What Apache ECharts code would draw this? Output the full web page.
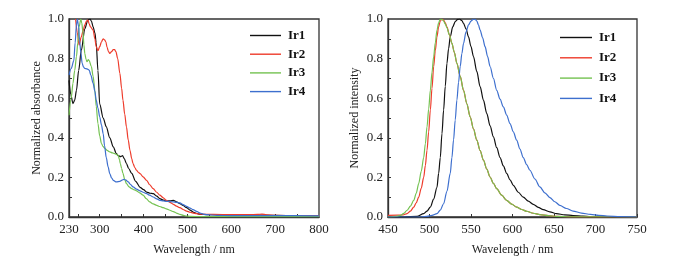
<!DOCTYPE html>
<html>
<head>
<meta charset="utf-8">
<script src="https://cdn.jsdelivr.net/npm/echarts@6/dist/echarts.min.js"></script>
<style>
  html, body { margin: 0; padding: 0; background: #fff; }
  #chart { width: 684px; height: 269px; }
</style>
</head>
<body>
<div id="chart"></div>
<script>
// absorption spectra, [wavelength nm, normalized absorbance]
var absIr1 = [[230, 0.69], [234, 0.62], [239, 0.573], [243, 0.59], [247, 0.64], [252, 0.74], [258, 0.84], [266, 0.95], [273, 0.995], [278, 1.0], [281, 0.99], [285, 0.96], [289, 0.93], [292, 0.88], [296, 0.74], [300, 0.57], [308, 0.5], [315, 0.455], [323, 0.4], [331, 0.354], [338, 0.32], [342, 0.31], [348, 0.305], [352, 0.31], [356, 0.295], [361, 0.27], [366, 0.245], [373, 0.22], [382, 0.18], [392, 0.15], [400, 0.138], [407, 0.126], [415, 0.12], [422, 0.118], [430, 0.105], [437, 0.093], [445, 0.085], [453, 0.081], [461, 0.082], [468, 0.084], [475, 0.077], [483, 0.067], [490, 0.058], [498, 0.047], [506, 0.035], [513, 0.025], [521, 0.018], [529, 0.013], [544, 0.012], [600, 0.011], [650, 0.01], [700, 0.008], [750, 0.007], [800, 0.005]];
var absIr2 = [[245, 1.0], [249, 0.93], [253, 0.868], [258, 0.91], [262, 0.94], [266, 0.97], [270, 0.99], [273, 0.995], [276, 0.975], [279, 0.96], [285, 0.944], [289, 0.9], [292, 0.86], [296, 0.84], [300, 0.86], [304, 0.885], [308, 0.9], [311, 0.895], [314, 0.885], [317, 0.855], [320, 0.835], [323, 0.826], [327, 0.835], [331, 0.846], [334, 0.845], [337, 0.835], [341, 0.8], [346, 0.725], [350, 0.65], [353, 0.59], [357, 0.52], [361, 0.455], [365, 0.39], [369, 0.337], [373, 0.295], [376, 0.27], [380, 0.25], [384, 0.236], [388, 0.226], [392, 0.219], [399, 0.203], [407, 0.185], [414, 0.163], [422, 0.143], [430, 0.125], [437, 0.11], [445, 0.097], [452, 0.084], [460, 0.074], [468, 0.064], [475, 0.055], [483, 0.047], [490, 0.038], [498, 0.03], [506, 0.024], [513, 0.02], [521, 0.017], [529, 0.015], [560, 0.013], [600, 0.012], [640, 0.012], [660, 0.013], [670, 0.015], [680, 0.011], [700, 0.008], [750, 0.007], [800, 0.006]];
var absIr3 = [[230, 0.514], [235, 0.6], [239, 0.675], [243, 0.74], [247, 0.81], [250, 0.88], [253, 0.96], [257, 1.0], [259, 0.98], [262, 0.93], [264, 0.87], [266, 0.826], [269, 0.795], [271, 0.784], [274, 0.795], [276, 0.79], [281, 0.76], [285, 0.71], [289, 0.64], [292, 0.56], [296, 0.472], [300, 0.41], [304, 0.371], [308, 0.355], [312, 0.346], [317, 0.336], [323, 0.329], [329, 0.324], [334, 0.32], [338, 0.317], [342, 0.312], [345, 0.29], [347, 0.27], [350, 0.245], [353, 0.22], [357, 0.19], [361, 0.169], [367, 0.152], [373, 0.143], [379, 0.137], [384, 0.132], [391, 0.122], [399, 0.11], [406, 0.093], [414, 0.076], [422, 0.066], [430, 0.059], [437, 0.053], [445, 0.047], [452, 0.041], [460, 0.034], [468, 0.027], [475, 0.02], [483, 0.013], [491, 0.008], [498, 0.005], [506, 0.003], [530, 0.002], [600, 0.002], [700, 0.002], [800, 0.002]];
var absIr4 = [[230, 0.717], [235, 0.75], [241, 0.79], [244, 0.88], [247, 0.97], [249, 1.0], [252, 0.96], [254, 0.894], [257, 0.83], [260, 0.776], [263, 0.758], [266, 0.75], [271, 0.748], [276, 0.742], [280, 0.715], [285, 0.675], [289, 0.635], [292, 0.59], [296, 0.55], [300, 0.506], [304, 0.465], [308, 0.42], [311, 0.36], [315, 0.3], [319, 0.255], [323, 0.219], [327, 0.198], [331, 0.185], [338, 0.177], [346, 0.18], [351, 0.186], [355, 0.19], [360, 0.186], [365, 0.177], [370, 0.165], [376, 0.152], [384, 0.141], [392, 0.132], [399, 0.125], [407, 0.118], [414, 0.11], [422, 0.101], [430, 0.092], [437, 0.084], [445, 0.081], [453, 0.079], [460, 0.078], [468, 0.076], [475, 0.074], [483, 0.071], [490, 0.063], [498, 0.054], [506, 0.045], [513, 0.037], [521, 0.028], [529, 0.02], [536, 0.015], [544, 0.012], [567, 0.008], [600, 0.007], [700, 0.007], [800, 0.006]];

// emission spectra, [wavelength nm, normalized intensity]
var emIr1 = [[450, 0], [470, 0], [485, 0.003], [493, 0.017], [497, 0.03], [501, 0.05], [505, 0.09], [509, 0.15], [511, 0.22], [513, 0.3], [515, 0.42], [517, 0.54], [519, 0.66], [521, 0.776], [523, 0.85], [525, 0.91], [528, 0.96], [531, 0.987], [534, 0.998], [536, 1.0], [539, 0.992], [541, 0.978], [544, 0.95], [547, 0.91], [550, 0.86], [553, 0.81], [557, 0.735], [561, 0.658], [565, 0.59], [569, 0.523], [573, 0.46], [577, 0.405], [581, 0.35], [585, 0.3], [589, 0.258], [593, 0.22], [597, 0.188], [601, 0.16], [607, 0.125], [613, 0.1], [619, 0.08], [625, 0.064], [631, 0.049], [637, 0.037], [645, 0.026], [653, 0.017], [663, 0.011], [673, 0.007], [685, 0.004], [694, 0.002], [720, 0.001], [750, 0]];
var emIr2 = [[450, 0.008], [462, 0.009], [468, 0.011], [473, 0.017], [477, 0.03], [481, 0.05], [484, 0.072], [487, 0.1], [490, 0.145], [493, 0.2], [495, 0.26], [497, 0.337], [499, 0.43], [501, 0.54], [503, 0.65], [505, 0.76], [507, 0.84], [509, 0.91], [511, 0.96], [513, 0.99], [515, 1.0], [517, 0.995], [519, 0.98], [521, 0.96], [524, 0.92], [527, 0.877], [530, 0.83], [533, 0.776], [537, 0.71], [541, 0.64], [545, 0.572], [549, 0.506], [553, 0.445], [557, 0.388], [561, 0.335], [565, 0.287], [569, 0.242], [573, 0.202], [577, 0.17], [581, 0.143], [587, 0.11], [593, 0.084], [599, 0.065], [605, 0.05], [611, 0.038], [617, 0.029], [625, 0.019], [633, 0.012], [643, 0.007], [653, 0.003], [670, 0.001], [750, 0]];
var emIr3 = [[450, 0], [460, 0.003], [465, 0.008], [469, 0.018], [473, 0.034], [477, 0.055], [481, 0.084], [484, 0.12], [487, 0.169], [490, 0.23], [493, 0.3], [495, 0.37], [497, 0.455], [499, 0.545], [501, 0.64], [503, 0.73], [505, 0.81], [507, 0.88], [509, 0.944], [511, 0.98], [513, 1.0], [515, 0.998], [517, 0.99], [519, 0.975], [521, 0.955], [524, 0.92], [527, 0.877], [530, 0.83], [533, 0.776], [537, 0.71], [541, 0.64], [545, 0.572], [549, 0.506], [553, 0.445], [557, 0.388], [561, 0.335], [565, 0.287], [569, 0.242], [573, 0.202], [577, 0.17], [581, 0.143], [587, 0.11], [593, 0.084], [599, 0.065], [605, 0.05], [611, 0.038], [617, 0.029], [625, 0.019], [633, 0.012], [643, 0.007], [653, 0.003], [670, 0.001], [750, 0]];
var emIr4 = [[450, 0], [490, 0], [497, 0.003], [503, 0.008], [509, 0.017], [513, 0.035], [517, 0.067], [521, 0.13], [525, 0.22], [527, 0.3], [529, 0.39], [531, 0.49], [533, 0.59], [535, 0.68], [537, 0.76], [539, 0.825], [541, 0.877], [544, 0.935], [547, 0.97], [550, 0.99], [553, 1.0], [555, 0.998], [557, 0.99], [559, 0.97], [561, 0.944], [564, 0.905], [567, 0.86], [570, 0.81], [573, 0.76], [577, 0.7], [581, 0.64], [585, 0.595], [589, 0.556], [593, 0.515], [597, 0.472], [601, 0.43], [605, 0.388], [609, 0.343], [613, 0.3], [617, 0.265], [621, 0.236], [627, 0.192], [633, 0.152], [639, 0.122], [645, 0.098], [651, 0.077], [657, 0.059], [665, 0.043], [673, 0.03], [683, 0.02], [694, 0.013], [704, 0.008], [714, 0.005], [730, 0.002], [750, 0]];

var names = ['Ir1', 'Ir2', 'Ir3', 'Ir4'];
var colors = ['#111111', '#ee3b2b', '#74c251', '#3d6fce'];

var absLabels = [230, 300, 400, 500, 600, 700, 800];
var absTicks = [250, 300, 350, 400, 450, 500, 550, 600, 650, 700, 750];
var emLabels = [450, 500, 550, 600, 650, 700, 750];
var yLabels = [0, 0.2, 0.4, 0.6, 0.8, 1.0];
var yTicks = [0.1, 0.2, 0.3, 0.4, 0.5, 0.6, 0.7, 0.8, 0.9];

var font = '"Liberation Serif", "DejaVu Serif", serif';

function xAxis (grid, min, max, labels, ticks) {
  return {
    type: 'value',
    gridIndex: grid,
    min: min,
    max: max,
    interval: 50,
    name: 'Wavelength / nm',
    nameLocation: 'middle',
    nameGap: 27,
    nameTextStyle: { fontFamily: font, fontSize: 12, color: '#222' },
    axisLine: { show: true, lineStyle: { color: '#333', width: 1.3 } },
    axisTick: { show: true, inside: true, length: 3, customValues: ticks, lineStyle: { color: '#333' } },
    axisLabel: { customValues: labels, fontFamily: font, fontSize: 13, color: '#222', margin: 6 },
    splitLine: { show: false }
  }
}

function yAxis (grid, title, gap) {
  return {
    type: 'value',
    gridIndex: grid,
    min: 0,
    max: 1,
    interval: 0.1,
    name: title,
    nameLocation: 'middle',
    nameGap: gap,
    nameTextStyle: { fontFamily: font, fontSize: 12, color: '#222' },
    axisLine: { show: true, lineStyle: { color: '#333', width: 1.3 } },
    axisTick: { show: true, inside: true, length: 3, customValues: yTicks, lineStyle: { color: '#333' } },
    axisLabel: {
      customValues: yLabels,
      fontFamily: font,
      fontSize: 13,
      color: '#222',
      margin: 5,
      formatter: function (v) { return v.toFixed(1) }
    },
    splitLine: { show: false }
  }
}

function makeSeries (data, i, grid) {
  return {
    name: names[i],
    type: 'line',
    xAxisIndex: grid,
    yAxisIndex: grid,
    data: data,
    symbol: 'none',
    smooth: 0.3,
    smoothMonotone: 'x',
    lineStyle: { color: colors[i], width: 1.2 },
    itemStyle: { color: colors[i] },
    clip: true
  }
}

var series = []
;[absIr1, absIr2, absIr3, absIr4].forEach(function (d, i) { series.push(makeSeries(d, i, 0)) })
;[emIr1, emIr2, emIr3, emIr4].forEach(function (d, i) { series.push(makeSeries(d, i, 1)) })

var legendText = { fontFamily: font, fontSize: 13, fontWeight: 'bold', color: '#111', padding: [0, 0, 0, 2] }

var myChart = echarts.init(document.getElementById('chart'), null, { renderer: 'canvas' })
myChart.setOption({
  animation: false,
  backgroundColor: '#fff',
  grid: [
    { left: 69, top: 19, width: 250, height: 198, show: true, borderColor: '#333', borderWidth: 1.3, backgroundColor: 'transparent' },
    { left: 388, top: 19, width: 249, height: 198, show: true, borderColor: '#333', borderWidth: 1.3, backgroundColor: 'transparent' }
  ],
  legend: [
    { data: names, orient: 'vertical', left: 245, top: 24, icon: 'rect', itemWidth: 31, itemHeight: 1.4, itemGap: 5.7, textStyle: legendText, selectedMode: false },
    { data: names, orient: 'vertical', left: 555, top: 26, icon: 'rect', itemWidth: 32, itemHeight: 1.4, itemGap: 7.3, textStyle: legendText, selectedMode: false }
  ],
  xAxis: [
    xAxis(0, 230, 800, absLabels, absTicks),
    xAxis(1, 450, 750, emLabels, null)
  ],
  yAxis: [
    yAxis(0, 'Normalized absorbance', 26),
    yAxis(1, 'Normalized intensity', 27)
  ],
  series: series
})
</script>
</body>
</html>
